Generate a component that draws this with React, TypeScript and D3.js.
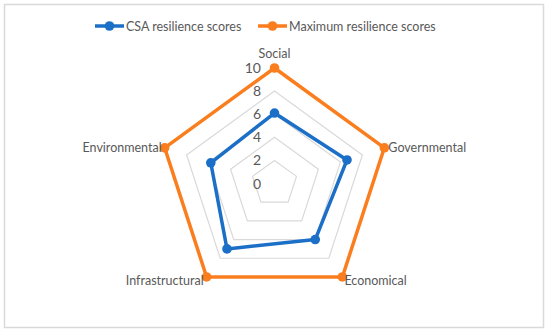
import React from "react";
import * as d3 from "d3";

const categories = ["Social", "Governmental", "Economical", "Infrastructural", "Environmental"];
const csaScores = [6.1, 6.6, 6.0, 7.0, 5.8];
const maxScores = [10, 10, 10, 10, 10];
const tickValues = [0, 2, 4, 6, 8, 10];
const seriesNames = ["CSA resilience scores", "Maximum resilience scores"];
const seriesColors = ["#1b6fc7", "#fa7d1e"];

const W = 550;
const H = 333;
const cx = 274.5;
const cy = 183.5;
const R = 115.5;
const font = "Lato, 'Open Sans', sans-serif";
const textColor = "#595959";

export default function App() {
  const r = d3.scaleLinear().domain([0, 10]).range([0, R]);
  const n = categories.length;
  const angle = (i: number) => (i * 2 * Math.PI) / n;
  const pt = (i: number, v: number): [number, number] => [
    cx + r(v) * Math.sin(angle(i)),
    cy - r(v) * Math.cos(angle(i)),
  ];
  const lineGen = d3.line<[number, number]>().curve(d3.curveLinearClosed);
  const series = [csaScores, maxScores];

  const labelPos = [
    { dx: 0, dy: -10, anchor: "middle" },
    { dx: 4, dy: 4, anchor: "start" },
    { dx: 2, dy: 8, anchor: "start" },
    { dx: -3, dy: 8, anchor: "end" },
    { dx: -3, dy: 4, anchor: "end" },
  ];

  return (
    <svg width={W} height={H} style={{ position: "absolute", left: 0, top: 0 }}>
      <rect x={0} y={0} width={W} height={H} fill="#fff" />
      <rect x={4.5} y={4.5} width={539} height={323} fill="#fff" stroke="#d9d9d9" strokeWidth={1.5} />
      {tickValues.filter((t) => t > 0).map((t) => (
        <path
          key={t}
          d={lineGen(categories.map((_, i) => pt(i, t))) || ""}
          fill="none"
          stroke="#d9d9d9"
          strokeWidth={1.2}
        />
      ))}
      {tickValues.map((t) => (
        <text
          key={t}
          x={261}
          y={cy - r(t) + 5}
          textAnchor="end"
          fontFamily={font}
          fontSize={14}
          fill={textColor}
        >
          {t}
        </text>
      ))}
      {series.map((vals, s) => (
        <g key={s}>
          <path
            d={lineGen(vals.map((v, i) => pt(i, v))) || ""}
            fill="none"
            stroke={seriesColors[s]}
            strokeWidth={3.5}
            strokeLinejoin="round"
          />
          {vals.map((v, i) => {
            const [x, y] = pt(i, v);
            return <circle key={i} cx={x} cy={y} r={4.8} fill={seriesColors[s]} />;
          })}
        </g>
      ))}
      {categories.map((c, i) => {
        const [x, y] = pt(i, 10);
        const lp = labelPos[i];
        return (
          <text
            key={c}
            x={x + lp.dx}
            y={y + lp.dy}
            textAnchor={lp.anchor as any}
            fontFamily={font}
            fontSize={12.5}
            fill={textColor}
          >
            {c}
          </text>
        );
      })}
      {seriesNames.map((name, s) => {
        const x0 = s === 0 ? 95 : 258;
        return (
          <g key={name}>
            <line x1={x0} x2={x0 + 29} y1={26} y2={26} stroke={seriesColors[s]} strokeWidth={3.5} />
            <circle cx={x0 + 14.5} cy={26} r={4.8} fill={seriesColors[s]} />
            <text x={x0 + 31} y={30.5} fontFamily={font} fontSize={12.5} fill={textColor}>
              {name}
            </text>
          </g>
        );
      })}
    </svg>
  );
}
